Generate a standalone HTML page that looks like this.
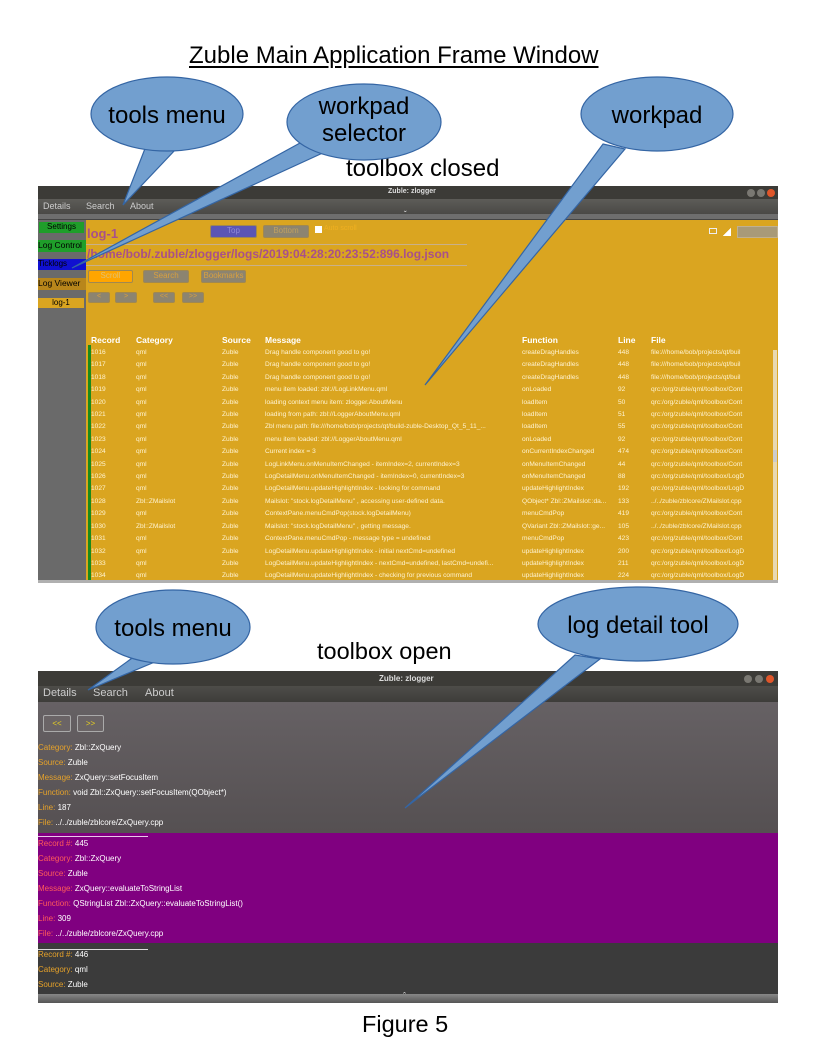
<!DOCTYPE html>
<html><head><meta charset="utf-8"><style>
*{margin:0;padding:0;box-sizing:border-box}
body{width:816px;height:1056px;background:#fff;position:relative;overflow:hidden;font-family:"Liberation Sans","DejaVu Sans",sans-serif}
.a{position:absolute;white-space:nowrap}
.t{font-size:6.6px;color:#fff3d0}
.hd{font-size:8.5px;font-weight:bold;color:#fff}
.btn{position:absolute;font-size:8px;text-align:center;border:1px solid #a08850;border-radius:2px}
.lb{font-size:8px;color:#fff;position:absolute;white-space:nowrap}
.o{color:#e6a22a}
.r{color:#ff5a5a}
</style></head><body>
<div class="a" style="left:189px;top:42px;font-size:24px;color:#000;text-decoration:underline;text-underline-offset:3px">Zuble Main Application Frame Window</div>
<div class="a" style="left:346px;top:155px;font-size:24px;color:#000">toolbox closed</div>
<div class="a" style="left:317px;top:638px;font-size:23.5px;color:#000">toolbox open</div>
<div class="a" style="left:362px;top:1011px;font-size:23.5px;color:#000">Figure 5</div>

<!-- top window -->
<div class="a" style="left:38px;top:186px;width:740px;height:13px;background:#3c3b37"></div>
<div class="a" style="left:388px;top:188px;font-size:7px;font-weight:bold;color:#ddd">Zuble: zlogger</div>
<div class="a" style="left:747px;top:189px;width:8px;height:8px;border-radius:50%;background:#7a7872"></div>
<div class="a" style="left:757px;top:189px;width:8px;height:8px;border-radius:50%;background:#7a7872"></div>
<div class="a" style="left:767px;top:189px;width:8px;height:8px;border-radius:50%;background:#e0562a"></div>
<div class="a" style="left:38px;top:199px;width:740px;height:15px;background:linear-gradient(#5d5c58,#4a4946)"></div>
<div class="a" style="left:43px;top:201px;font-size:9px;color:#ccc">Details</div>
<div class="a" style="left:86px;top:201px;font-size:9px;color:#ccc">Search</div>
<div class="a" style="left:130px;top:201px;font-size:9px;color:#ccc">About</div>
<div class="a" style="left:38px;top:214px;width:740px;height:6px;background:#6e6e6e;border-bottom:1px solid #444"></div>
<div class="a" style="left:404px;top:210px;font-size:8px;color:#eee">ˇ</div>
<div class="a" style="left:38px;top:220px;width:48px;height:362px;background:#6a6a6a"></div>
<div class="a" style="left:86px;top:220px;width:692px;height:360px;background:#daa520"></div>
<div class="a" style="left:38px;top:580px;width:740px;height:3px;background:#b0b0b0"></div>
<div class="a" style="left:39px;top:222px;width:45px;height:11px;background:#1f9e2a;font-size:8px;text-align:center;color:#000">Settings</div>
<div class="a" style="left:38px;top:240px;width:48px;height:12px;background:#1f9e2a;font-size:8.5px;color:#000">Log Control</div>
<div class="a" style="left:38px;top:259px;width:48px;height:11px;background:#1010d0;font-size:8px;color:#000">Ticklogs</div>
<div class="a" style="left:38px;top:278px;width:48px;height:12px;background:#b8861b;font-size:8.5px;color:#000">Log Viewer</div>
<div class="a" style="left:38px;top:298px;width:46px;height:10px;background:#daa520;font-size:8px;text-align:center;color:#000">log-1</div>

<div class="a" style="left:87px;top:226px;font-size:13px;font-weight:bold;color:#a8508a">log-1</div>
<div class="btn" style="left:210px;top:225px;width:47px;height:13px;background:#5b55b5;color:#8f8ad8">Top</div>
<div class="btn" style="left:263px;top:225px;width:46px;height:13px;background:#8c8470;color:#c0a060">Bottom</div>
<div class="a" style="left:315px;top:226px;width:7px;height:7px;background:#fff"></div>
<div class="a" style="left:324px;top:225px;font-size:7px;color:#f0b020">Auto scroll</div>
<div class="a" style="left:86px;top:244px;width:381px;height:1px;background:#c8b08a"></div>
<div class="a" style="left:87px;top:247px;font-size:12px;font-weight:bold;color:#a8508a">/home/bob/.zuble/zlogger/logs/2019:04:28:20:23:52:896.log.json</div>
<div class="a" style="left:86px;top:265px;width:381px;height:1px;background:#c8b08a"></div>
<div class="btn" style="left:88px;top:270px;width:45px;height:13px;background:#ffa500;color:#e0c070">Scroll</div>
<div class="btn" style="left:143px;top:270px;width:46px;height:13px;background:#8c8470;color:#d8a040">Search</div>
<div class="btn" style="left:201px;top:270px;width:45px;height:13px;background:#8c8470;color:#d8a040">Bookmarks</div>
<div class="btn" style="left:88px;top:292px;width:22px;height:11px;background:#8c8470;color:#d8a040;font-size:7px">&lt;</div>
<div class="btn" style="left:115px;top:292px;width:22px;height:11px;background:#8c8470;color:#d8a040;font-size:7px">&gt;</div>
<div class="btn" style="left:153px;top:292px;width:22px;height:11px;background:#8c8470;color:#d8a040;font-size:7px">&lt;&lt;</div>
<div class="btn" style="left:182px;top:292px;width:22px;height:11px;background:#8c8470;color:#d8a040;font-size:7px">&gt;&gt;</div>
<div class="a" style="left:709px;top:228px;width:8px;height:6px;border:1px solid #eee"></div>
<div class="a" style="left:723px;top:228px;width:8px;height:8px;background:linear-gradient(135deg,#daa520 50%,#fff 50%)"></div>
<div class="a" style="left:737px;top:226px;width:41px;height:12px;background:#a89a78;border:1px solid #c0b090"></div>

<div class="a" style="left:88px;top:345px;width:3px;height:235px;background:#1a8a1a"></div>
<div class="a" style="left:773px;top:350px;width:4px;height:230px;background:#e8d8b0"></div>
<div class="a" style="left:773px;top:450px;width:4px;height:12px;background:#ccc"></div>
<div class="a hd" style="left:91px;top:335px">Record</div>
<div class="a hd" style="left:136px;top:335px">Category</div>
<div class="a hd" style="left:222px;top:335px">Source</div>
<div class="a hd" style="left:265px;top:335px">Message</div>
<div class="a hd" style="left:522px;top:335px">Function</div>
<div class="a hd" style="left:618px;top:335px">Line</div>
<div class="a hd" style="left:651px;top:335px">File</div>
<div style="position:absolute;left:0;top:0;width:772px;height:582px;overflow:hidden">
<div class="a t" style="left:91px;top:347px;line-height:12.4px">1016<br>1017<br>1018<br>1019<br>1020<br>1021<br>1022<br>1023<br>1024<br>1025<br>1026<br>1027<br>1028<br>1029<br>1030<br>1031<br>1032<br>1033<br>1034</div>
<div class="a t" style="left:136px;top:347px;line-height:12.4px">qml<br>qml<br>qml<br>qml<br>qml<br>qml<br>qml<br>qml<br>qml<br>qml<br>qml<br>qml<br>Zbl::ZMailslot<br>qml<br>Zbl::ZMailslot<br>qml<br>qml<br>qml<br>qml</div>
<div class="a t" style="left:222px;top:347px;line-height:12.4px">Zuble<br>Zuble<br>Zuble<br>Zuble<br>Zuble<br>Zuble<br>Zuble<br>Zuble<br>Zuble<br>Zuble<br>Zuble<br>Zuble<br>Zuble<br>Zuble<br>Zuble<br>Zuble<br>Zuble<br>Zuble<br>Zuble</div>
<div class="a t" style="left:265px;top:347px;line-height:12.4px;width:255px;overflow:hidden">Drag handle component good to go!<br>Drag handle component good to go!<br>Drag handle component good to go!<br>menu item loaded: zbl://LogLinkMenu.qml<br>loading context menu item: zlogger.AboutMenu<br>loading from path: zbl://LoggerAboutMenu.qml<br>Zbl menu path: file:///home/bob/projects/qt/build-zuble-Desktop_Qt_5_11_...<br>menu item loaded: zbl://LoggerAboutMenu.qml<br>Current index = 3<br>LogLinkMenu.onMenuItemChanged - itemIndex=2, currentIndex=3<br>LogDetailMenu.onMenuItemChanged - itemIndex=0, currentIndex=3<br>LogDetailMenu.updateHighlightIndex - looking for command<br>Mailslot:  "stock.logDetailMenu" , accessing user-defined data.<br>ContextPane.menuCmdPop(stock.logDetailMenu)<br>Mailslot:  "stock.logDetailMenu" , getting message.<br>ContextPane.menuCmdPop - message type = undefined<br>LogDetailMenu.updateHighlightIndex - initial nextCmd=undefined<br>LogDetailMenu.updateHighlightIndex - nextCmd=undefined, lastCmd=undefi...<br>LogDetailMenu.updateHighlightIndex - checking for previous command</div>
<div class="a t" style="left:522px;top:347px;line-height:12.4px;width:94px;overflow:hidden">createDragHandles<br>createDragHandles<br>createDragHandles<br>onLoaded<br>loadItem<br>loadItem<br>loadItem<br>onLoaded<br>onCurrentIndexChanged<br>onMenuItemChanged<br>onMenuItemChanged<br>updateHighlightIndex<br>QObject* Zbl::ZMailslot::da...<br>menuCmdPop<br>QVariant Zbl::ZMailslot::ge...<br>menuCmdPop<br>updateHighlightIndex<br>updateHighlightIndex<br>updateHighlightIndex</div>
<div class="a t" style="left:618px;top:347px;line-height:12.4px">448<br>448<br>448<br>92<br>50<br>51<br>55<br>92<br>474<br>44<br>88<br>192<br>133<br>419<br>105<br>423<br>200<br>211<br>224</div>
<div class="a t" style="left:651px;top:347px;line-height:12.4px">file:///home/bob/projects/qt/buil<br>file:///home/bob/projects/qt/buil<br>file:///home/bob/projects/qt/buil<br>qrc:/org/zuble/qml/toolbox/Cont<br>qrc:/org/zuble/qml/toolbox/Cont<br>qrc:/org/zuble/qml/toolbox/Cont<br>qrc:/org/zuble/qml/toolbox/Cont<br>qrc:/org/zuble/qml/toolbox/Cont<br>qrc:/org/zuble/qml/toolbox/Cont<br>qrc:/org/zuble/qml/toolbox/Cont<br>qrc:/org/zuble/qml/toolbox/LogD<br>qrc:/org/zuble/qml/toolbox/LogD<br>../../zuble/zblcore/ZMailslot.cpp<br>qrc:/org/zuble/qml/toolbox/Cont<br>../../zuble/zblcore/ZMailslot.cpp<br>qrc:/org/zuble/qml/toolbox/Cont<br>qrc:/org/zuble/qml/toolbox/LogD<br>qrc:/org/zuble/qml/toolbox/LogD<br>qrc:/org/zuble/qml/toolbox/LogD</div>
</div>

<!-- bottom window -->
<div class="a" style="left:38px;top:671px;width:740px;height:15px;background:#3c3b37"></div>
<div class="a" style="left:379px;top:674px;font-size:8px;font-weight:bold;color:#ddd">Zuble: zlogger</div>
<div class="a" style="left:744px;top:675px;width:8px;height:8px;border-radius:50%;background:#7a7872"></div>
<div class="a" style="left:755px;top:675px;width:8px;height:8px;border-radius:50%;background:#7a7872"></div>
<div class="a" style="left:766px;top:675px;width:8px;height:8px;border-radius:50%;background:#e0562a"></div>
<div class="a" style="left:38px;top:686px;width:740px;height:16px;background:linear-gradient(#4e4d49,#3e3d3a)"></div>
<div class="a" style="left:43px;top:687px;font-size:11px;color:#ccc">Details</div>
<div class="a" style="left:93px;top:687px;font-size:11px;color:#ccc">Search</div>
<div class="a" style="left:145px;top:687px;font-size:11px;color:#ccc">About</div>
<div class="a" style="left:38px;top:702px;width:740px;height:131px;background:linear-gradient(#666164,#555052)"></div>
<div class="btn" style="left:43px;top:715px;width:28px;height:17px;background:#6a6466;border:1px solid #aaa;color:#e8d020;font-size:8px;line-height:15px">&lt;&lt;</div>
<div class="btn" style="left:77px;top:715px;width:27px;height:17px;background:#6a6466;border:1px solid #aaa;color:#e8d020;font-size:8px;line-height:15px">&gt;&gt;</div>
<div class="lb" style="left:38px;top:743px"><span class="o">Category:</span> Zbl::ZxQuery</div>
<div class="lb" style="left:38px;top:758px"><span class="o">Source:</span> Zuble</div>
<div class="lb" style="left:38px;top:773px"><span class="o">Message:</span> ZxQuery::setFocusItem</div>
<div class="lb" style="left:38px;top:788px"><span class="o">Function:</span> void Zbl::ZxQuery::setFocusItem(QObject*)</div>
<div class="lb" style="left:38px;top:803px"><span class="o">Line:</span> 187</div>
<div class="lb" style="left:38px;top:818px"><span class="o">File:</span> ../../zuble/zblcore/ZxQuery.cpp</div>
<div class="a" style="left:38px;top:833px;width:740px;height:110px;background:#800080"></div>
<div class="a" style="left:38px;top:836px;width:110px;height:1px;background:#e8c8e8"></div>
<div class="lb" style="left:38px;top:839px"><span class="r">Record #:</span> 445</div>
<div class="lb" style="left:38px;top:854px"><span class="r">Category:</span> Zbl::ZxQuery</div>
<div class="lb" style="left:38px;top:869px"><span class="r">Source:</span> Zuble</div>
<div class="lb" style="left:38px;top:884px"><span class="r">Message:</span> ZxQuery::evaluateToStringList</div>
<div class="lb" style="left:38px;top:899px"><span class="r">Function:</span> QStringList Zbl::ZxQuery::evaluateToStringList()</div>
<div class="lb" style="left:38px;top:914px"><span class="r">Line:</span> 309</div>
<div class="lb" style="left:38px;top:929px"><span class="r">File:</span> ../../zuble/zblcore/ZxQuery.cpp</div>
<div class="a" style="left:38px;top:943px;width:740px;height:51px;background:#3b3b3b"></div>
<div class="a" style="left:38px;top:949px;width:110px;height:1px;background:#ddd"></div>
<div class="lb" style="left:38px;top:950px"><span class="o">Record #:</span> 446</div>
<div class="lb" style="left:38px;top:965px"><span class="o">Category:</span> qml</div>
<div class="lb" style="left:38px;top:980px"><span class="o">Source:</span> Zuble</div>
<div class="a" style="left:38px;top:994px;width:740px;height:9px;background:linear-gradient(#888,#555)"></div>
<div class="a" style="left:403px;top:991px;font-size:9px;color:#eee">ˆ</div>

<!-- callouts -->
<svg class="a" style="left:0;top:0" width="816" height="1056" viewBox="0 0 816 1056">
<g fill="#729fcf" stroke="#3465a4" stroke-width="1.2">
<polygon points="146,146 176,149 123,205"/>
<ellipse cx="167" cy="114" rx="76" ry="37"/>
<polygon points="300,143 327,151 72,268"/>
<ellipse cx="364" cy="122" rx="77" ry="38"/>
<polygon points="603,144 625,149 425,385"/>
<ellipse cx="657" cy="114" rx="76" ry="37"/>
<polygon points="135,656 157,661 88,690"/>
<ellipse cx="173" cy="627" rx="77" ry="37"/>
<polygon points="575,655 600,659 405,808"/>
<ellipse cx="638" cy="624" rx="100" ry="37"/>
</g>
<g font-family="Liberation Sans, sans-serif" font-size="24" fill="#000" text-anchor="middle">
<text x="167" y="123">tools menu</text>
<text x="364" y="114">workpad</text>
<text x="364" y="141">selector</text>
<text x="657" y="123">workpad</text>
<text x="173" y="636">tools menu</text>
<text x="638" y="633">log detail tool</text>
</g>
</svg>
</body></html>
